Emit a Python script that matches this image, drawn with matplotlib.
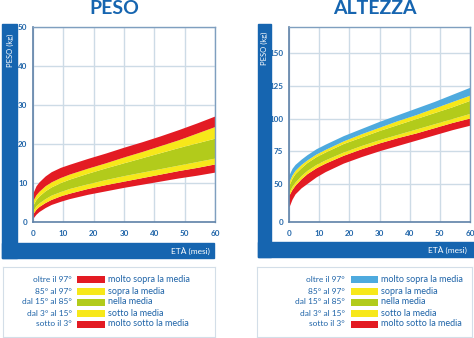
import numpy as np
import matplotlib
matplotlib.use("Agg")
import matplotlib.pyplot as plt
from matplotlib.patches import Rectangle

plt.rcParams['font.family'] = ['Lato', 'DejaVu Sans']

# dati
mesi = [0, 1, 2, 4, 6, 9, 12, 18, 24, 30, 36, 42, 48, 54, 60]

# PESO (kg): confini delle fasce dal basso verso l'alto
peso_min = [1.0, 2.0, 2.7, 3.7, 4.5, 5.3, 6.0, 7.1, 8.0, 8.9, 9.7, 10.5, 11.3, 12.0, 12.8]
peso_p3 = [2.2, 3.3, 4.0, 5.0, 5.8, 6.7, 7.4, 8.6, 9.6, 10.5, 11.4, 12.3, 13.2, 14.0, 14.9]
peso_p15 = [3.0, 4.2, 4.9, 6.0, 6.9, 7.8, 8.6, 9.8, 10.9, 11.9, 12.8, 13.7, 14.6, 15.5, 16.4]
peso_p85 = [4.4, 5.8, 6.7, 8.0, 9.0, 10.1, 11.0, 12.5, 13.9, 15.2, 16.5, 17.8, 19.1, 20.3, 21.5]
peso_p97 = [5.6, 7.0, 7.9, 9.3, 10.3, 11.4, 12.3, 13.8, 15.2, 16.7, 18.1, 19.6, 21.1, 22.8, 24.5]
peso_max = [7.5, 9.3, 10.3, 11.8, 12.9, 14.0, 14.8, 16.3, 17.7, 19.2, 20.6, 22.1, 23.7, 25.4, 27.2]

# ALTEZZA (cm)
alt_min = [20, 30, 37, 45, 50.5, 55.5, 59.5, 66, 71, 75.5, 79.5, 83.5, 87.5, 91.5, 95]
alt_p3 = [35.5, 43, 48.5, 54, 58, 62.5, 66, 72, 77, 81.5, 85.5, 89, 93, 97, 100.5]
alt_p15 = [39.5, 47, 51.5, 56.5, 60.5, 65, 68.5, 74.5, 79.5, 84, 88, 92, 96, 100, 104]
alt_p85 = [48.5, 54.5, 58, 62.5, 66.5, 71, 74.5, 81, 86, 91, 95.5, 100, 104.5, 109, 114]
alt_p97 = [52, 57, 60.5, 65, 68.5, 73, 76.5, 83, 88.5, 93.5, 98.5, 103, 108, 113, 118]
alt_max = [57, 62, 65, 69, 72.5, 77, 80.5, 87, 92.5, 98, 103, 108, 113, 118.5, 124]

fasce = ["oltre il 97°", "85° al 97°", "dal 15° al 85°", "dal 3° al 15°", "sotto il 3°"]
giudizi = ["molto sopra la media", "sopra la media", "nella media", "sotto la media", "molto sotto la media"]

ROSSO = '#e31b23'
GIALLO = '#f7e81a'
VERDE = '#b2cb1b'
AZZURRO = '#4eaade'
BLU = '#1665b0'
TESTO = '#1f64a8'
GRIGLIA = '#cddbe6'
BORDO = '#7f9fbf'

colori_peso = [ROSSO, GIALLO, VERDE, GIALLO, ROSSO]
colori_alt = [AZZURRO, GIALLO, VERDE, GIALLO, ROSSO]

W, H = 474, 338
fig = plt.figure(figsize=(W / 100, H / 100), dpi=100)


def box(x0, y0, x1, y1):
    # pixel -> coordinate figura
    return [x0 / W, 1 - y1 / H, (x1 - x0) / W, (y1 - y0) / H]


def cornice(x0, x1, xr, ytop, ybot_in, ybot):
    # barra blu a sinistra e in basso
    for r in [box(x0, ytop, x1, ybot), box(x0, ybot_in, xr, ybot)]:
        fig.patches.append(Rectangle((r[0], r[1]), r[2], r[3], transform=fig.transFigure,
                                     color=BLU, zorder=0))


def stile(ax, yticks):
    ax.set_xlim(0, 60)
    ax.set_xticks([0, 10, 20, 30, 40, 50, 60])
    ax.set_yticks(yticks)
    ax.grid(True, color=GRIGLIA, linewidth=1)
    ax.set_axisbelow(True)
    ax.tick_params(length=0, labelsize=5.8, labelcolor=TESTO)
    ax.tick_params(axis='x', pad=6)
    ax.tick_params(axis='y', pad=4)
    for lab in ax.get_xticklabels() + ax.get_yticklabels():
        lab.set_fontweight('bold')
    for s in ['top', 'right']:
        ax.spines[s].set_color(BORDO)
        ax.spines[s].set_linewidth(1)
    for s in ['left', 'bottom']:
        ax.spines[s].set_color('#5f82a8')
        ax.spines[s].set_linewidth(1.2)


def bande(ax, limiti, colori):
    # limiti dal basso verso l'alto, colori dall'alto verso il basso
    col = colori[::-1]
    for i in range(5):
        ax.fill_between(mesi, limiti[i], limiti[i + 1], color=col[i], linewidth=0, zorder=2)


def legenda(pos, colori, xl, xs0, xs1):
    lg = fig.add_axes(pos)
    lg.set_xlim(0, pos[2] * W)
    lg.set_ylim(pos[3] * H, 0)
    lg.set_xticks([])
    lg.set_yticks([])
    for s in lg.spines.values():
        s.set_color('#d3dee8')
    righe = [12, 24, 35, 46, 57]
    lg.barh(righe, [xs1 - xs0] * 5, left=xs0, height=7, color=colori)
    for y, f, g in zip(righe, fasce, giudizi):
        lg.text(xl, y, f, ha='right', va='center', fontsize=6, color=TESTO)
        lg.text(xs1 + 3, y, g, ha='left', va='center', fontsize=6.5, color=TESTO)


# ---- PESO ----
cornice(2, 17, 214, 24, 243, 258)
ax1 = fig.add_axes(box(33, 27, 215, 222))
bande(ax1, [peso_min, peso_p3, peso_p15, peso_p85, peso_p97, peso_max], colori_peso)
ax1.set_ylim(0, 50)
stile(ax1, [0, 10, 20, 30, 40, 50])
fig.text(114 / W, 1 - 8 / H, "PESO", ha='center', va='center', fontsize=14,
         fontweight='bold', color=BLU)
fig.text(10 / W, 1 - 50 / H, "PESO (kg)", rotation=90, ha='center', va='center',
         fontsize=5.5, color='white')
fig.text(210 / W, 1 - 251 / H, "ETÀ (mesi)", ha='right', va='center', fontsize=6,
         color='white')
legenda(box(3, 267, 215, 337), colori_peso, 69, 74, 102)


# ---- ALTEZZA ----
def avanti(v):
    v = np.asarray(v, dtype=float)
    return np.where(v < 50, v * 29 / 50, v - 21)


def indietro(p):
    p = np.asarray(p, dtype=float)
    return np.where(p < 29, p * 50 / 29, p + 21)


cornice(258, 271, 474, 24, 242, 257)
ax2 = fig.add_axes(box(289, 27, 470, 222))
ax2.set_yscale('function', functions=(avanti, indietro))
bande(ax2, [alt_min, alt_p3, alt_p15, alt_p85, alt_p97, alt_max], colori_alt)
ax2.set_ylim(0, 170)
stile(ax2, [0, 50, 75, 100, 125, 150])
fig.text(375 / W, 1 - 8 / H, "ALTEZZA", ha='center', va='center', fontsize=14,
         fontweight='bold', color=BLU)
fig.text(264.5 / W, 1 - 48 / H, "PESO (kg)", rotation=90, ha='center', va='center',
         fontsize=5.5, color='white')
fig.text(467 / W, 1 - 250 / H, "ETÀ (mesi)", ha='right', va='center', fontsize=6,
         color='white')
legenda(box(257, 267, 472, 337), colori_alt, 88, 94, 121)

fig.savefig("out.png", dpi=100)
